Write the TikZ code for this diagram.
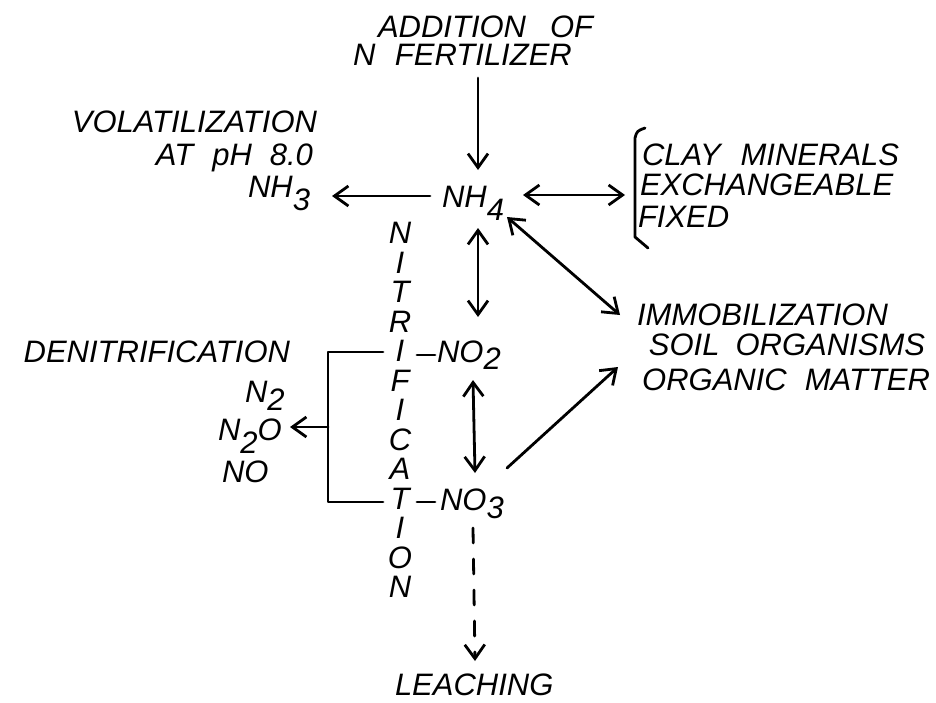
\documentclass[tikz,border=0pt]{standalone}
\usepackage{fontspec}
\setmainfont{Liberation Sans}
\usetikzlibrary{arrows.meta}
\newcommand{\lsub}[2]{\raisebox{-#1pt}{#2}}
\begin{document}
\begin{tikzpicture}[x=1pt,y=-1pt,
  lbl/.style={inner sep=0pt, outer sep=0pt, font=\fontsize{31}{31}\selectfont\itshape},
  conn/.style={line width=2.8pt, line cap=round, line join=round},
  arr/.style={conn, -{Straight Barb[length=14pt,width=20pt]}},
  darr/.style={conn, {Straight Barb[length=14pt,width=20pt]}-{Straight Barb[length=14pt,width=20pt]}},
]
\fill[white] (0,0) rectangle (936,702);
\useasboundingbox (0,0) rectangle (936,702);

% texts
\node[lbl, anchor=base west] (add1) at (378,37) {ADDITION\hspace{24pt}OF};
\node[lbl, anchor=base west] (add2) at (353,65) {N\hspace{19.6pt}FERTILIZER};
\node[lbl, anchor=base east] (vol1) at (317,132) {VOLATILIZATION};
\node[lbl, anchor=base east] (vol2) at (313,165) {AT\hspace{19pt}pH\hspace{18pt}8.0};
\node[lbl, anchor=base west] (nh3) at (248,197) {NH\lsub{13}{3}};
\node[lbl, anchor=base west] (nh4) at (442,207) {NH\lsub{13}{4}};
\node[lbl, anchor=base west] (clay1) at (642,165) {CLAY\hspace{20pt}MINERALS};
\node[lbl, anchor=base west] (clay2) at (640,195) {EXCHANGEABLE};
\node[lbl, anchor=base west] (clay3) at (638,227) {FIXED};
\node[lbl, anchor=base west] (imm1) at (637,325) {IMMOBILIZATION};
\node[lbl, anchor=base east] (imm2) at (925,355) {SOIL\hspace{16pt}ORGANISMS};
\node[lbl, anchor=base east] (imm3) at (930,390) {ORGANIC\hspace{18pt}MATTER};
\node[lbl, anchor=base east] (den) at (290,362) {DENITRIFICATION};
\node[lbl, anchor=base west] (n2) at (245,402) {N\lsub{8}{2}};
\node[lbl, anchor=base west] (n2o) at (218,440) {N\lsub{13}{2}O};
\node[lbl, anchor=base west] (no) at (222,482) {NO};
\node[lbl, anchor=base west] (no2) at (437,362) {NO\lsub{7}{2}};
\node[lbl, anchor=base west] (no3) at (440,510) {NO\lsub{8}{3}};
\node[lbl, align=center, font=\fontsize{31}{29.5}\selectfont\itshape] (nitr) at (400,410)
  {N\\I\\T\\R\\I\\F\\I\\C\\A\\T\\I\\O\\N};
\node[lbl, anchor=base west] (leach) at (395,695) {LEACHING};

% connectors
\draw[arr] ([shift={(125,13)}]add2.base west) -- ([shift={(36,-37)}]nh4.base west);
\draw[arr] ([shift={(-12,-11)}]nh4.base west) -- ([shift={(84,-1)}]nh3.base west);
\draw[darr] ([shift={(81,-12)}]nh4.base west) -- ([shift={(-15,0)}]clay2.base west);
\draw[darr] ([shift={(36,21)}]nh4.base west) -- ([shift={(41,-45)}]no2.base west);
\draw[darr] ([shift={(65,10)}]nh4.base west) -- ([shift={(-17,-10)}]imm1.base west);
\draw[arr] ([shift={(67,-42)}]no3.base west) -- ([shift={(-312,-23)}]imm3.base east);
\draw[darr] ([shift={(36,18)}]no2.base west) -- ([shift={(35,-37)}]no3.base west);
\draw[arr, dash pattern=on 15pt off 16pt] ([shift={(33,18)}]no3.base west) -- ([shift={(80,-34)}]leach.base west);

% nitrification bracket
\draw[conn] ([shift={(-54,-10)}]no2.base west) -- ++(-55,0) |- ([shift={(-57,-8)}]no3.base west);
\draw[conn] ([shift={(-20,-7)}]no2.base west) -- ++(18,0);
\draw[conn] ([shift={(-23,-8)}]no3.base west) -- ++(18,0);
\draw[arr] ([shift={(110,-13)}]n2o.base west) -- ([shift={(72,-13)}]n2o.base west);

% clay bracket
\draw[conn] ([shift={(3,-37)}]clay1.base west) .. controls ([shift={(-5,-34)}]clay1.base west) .. ([shift={(-7,-27)}]clay1.base west)
  -- ([shift={(-7,72)}]clay1.base west) -- ([shift={(6,83)}]clay1.base west);
\end{tikzpicture}
\end{document}
